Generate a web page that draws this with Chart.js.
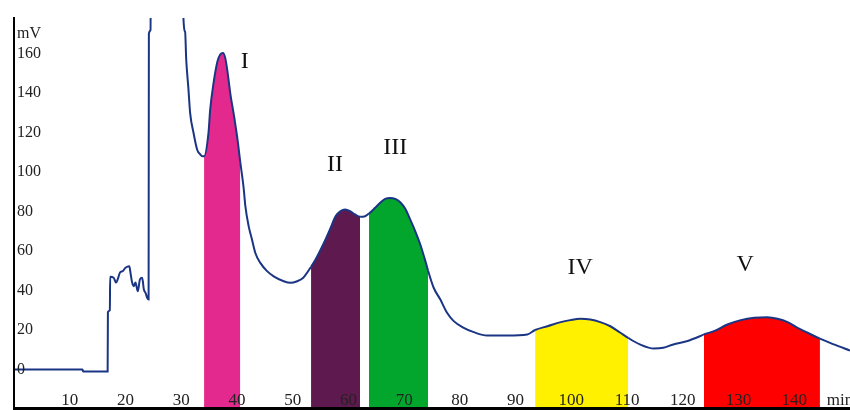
<!DOCTYPE html>
<html>
<head>
<meta charset="utf-8">
<title>Chromatogram</title>
<style>
body {
	margin: 0;
	padding: 0;
	background-color: #fff;
}
</style>
<script src="https://cdn.jsdelivr.net/npm/chart.js@4.4.0/dist/chart.umd.min.js"></script>
<script>
// retention time (min) / detector signal (mV)
var times = [
	0, 12.3, 12.4, 16.8, 16.85, 17.2, 17.25, 17.9, 18.3, 18.6, 19.0, 19.5, 20.0, 20.7, 20.9,
	21.2, 21.5, 21.8, 22.2, 22.6, 23.0, 23.3, 23.6, 23.9, 24.15, 24.2, 24.5, 24.6, 30.3, 30.4,
	30.7, 30.9, 31.3, 31.6, 32.2, 32.9, 33.4, 33.8, 34.1, 34.9, 35.2, 35.8, 36.5, 37.0, 37.5,
	37.9, 38.3, 38.8, 39.5, 40.1, 40.6, 41.2, 41.5, 42.1, 42.7, 43.3, 44.2, 45.4, 46.6, 48.4,
	49.6, 50.8, 51.9, 53.3, 54.1, 55.6, 56.8, 57.7, 58.6, 59.4, 60.3, 61.2, 62.1, 63.0, 63.7,
	64.8, 65.7, 66.6, 67.5, 68.4, 69.3, 70.2, 71.1, 72.0, 72.9, 73.8, 74.3, 75.3, 76.5, 77.7,
	78.9, 80.7, 82.5, 84.9, 88.5, 92.1, 93.5, 95.7, 98.1, 99.8, 101.6, 103.4, 105.2, 107.0, 108.8,
	110.2, 112.3, 114.8, 116.5, 118.3, 120.7, 123.1, 123.8, 125.6, 128.0, 130.4, 132.8, 135.2, 137.0, 138.8,
	140.6, 142.4, 144.6, 147.1, 150
];
var signal = [
	0, 0, -1, -1, 29, 30, 47, 46.4, 44, 45.6, 49, 49.8, 51.5, 52.3, 49,
	44, 42.2, 44, 39.6, 45.6, 46.4, 40.5, 38.8, 36.3, 35.4, 170, 172, 300, 300, 178,
	171, 157, 142, 130, 120, 111, 109, 108, 108, 120, 131.6, 145, 156, 159.5, 160.3,
	157.8, 151, 140, 128, 116.5, 105, 92, 83, 72.6, 65.8, 59, 54, 49.8, 47.2, 44.7,
	43.9, 44.7, 46.5, 52, 55.7, 64.1, 71.7, 77.6, 80.2, 81, 80.2, 78.5, 77.3, 77.6, 79,
	81.9, 84.4, 86.4, 86.9, 86.4, 84.7, 81.4, 75.9, 70, 63.3, 55, 50, 41.4, 35.4, 28.7,
	24.5, 21.1, 18.9, 17.2, 17.2, 17.7, 20, 21.9, 24, 25, 25.7, 25.3, 24, 21.9, 18.6,
	16, 12.7, 10.6, 11, 12.7, 14.3, 16.9, 17.8, 19.4, 22.8, 25, 26.2, 26.5, 25.7, 24,
	21.1, 18.6, 15.6, 12.7, 9.6
];

// collected fractions
var bandNames = ['I', 'II', 'III', 'IV', 'V'];
var bandStart = [34.1, 53.3, 63.7, 93.5, 123.8];
var bandEnd = [40.6, 62.1, 74.3, 110.2, 144.6];
var bandColors = ['#e4298e', '#5e1a4e', '#03a62c', '#fff100', '#ff0000'];
var labelTime = [41.4, 57.6, 68.4, 101.6, 131.2];
var labelSignal = [156, 103.8, 112.4, 51.6, 53.2];

var yTicks = [0, 20, 40, 60, 80, 100, 120, 140, 160, 170];
var xTicks = [10, 20, 30, 40, 50, 60, 70, 80, 90, 100, 110, 120, 130, 140, 148.2];

function bandColor(c) {
	var a = times[c.p0DataIndex], b = times[c.p1DataIndex];
	for (var i = 0; i < bandStart.length; i++) {
		if (a >= bandStart[i] - 1e-6 && b <= bandEnd[i] + 1e-6) return bandColors[i];
	}
	return 'rgba(0,0,0,0)';
}

var peakLabels = {
	id: 'peakLabels',
	afterDraw: function(chart) {
		var ctx = chart.ctx, sx = chart.scales.x, sy = chart.scales.y;
		ctx.save();
		ctx.font = '24px "Liberation Serif"';
		ctx.fillStyle = '#111';
		ctx.textAlign = 'center';
		ctx.textBaseline = 'middle';
		for (var i = 0; i < bandNames.length; i++) {
			ctx.fillText(bandNames[i], sx.getPixelForValue(labelTime[i]), sy.getPixelForValue(labelSignal[i]));
		}
		ctx.restore();
	}
};

window.onload = function() {
	var ctx = document.getElementById('chrom');
	new Chart(ctx, {
		type: 'line',
		data: {
			datasets: [{
				data: times.map(function(t, i) { return {x: t, y: signal[i]}; }),
				borderColor: '#1b3585',
				borderWidth: 2,
				backgroundColor: 'rgba(0,0,0,0)',
				pointRadius: 0,
				cubicInterpolationMode: 'monotone',
				fill: 'start',
				segment: {
					backgroundColor: bandColor
				}
			}]
		},
		options: {
			responsive: false,
			animation: false,
			devicePixelRatio: 1,
			layout: {
				padding: {left: 13, top: 18, right: 0, bottom: 1}
			},
			plugins: {
				legend: {display: false},
				tooltip: {enabled: false}
			},
			scales: {
				x: {
					type: 'linear',
					min: 0,
					max: 150,
					afterFit: function(s) {
						s.height = 1;
						s.paddingLeft = 0;
						s.paddingRight = 0;
					},
					afterBuildTicks: function(s) {
						s.ticks = xTicks.map(function(v) { return {value: v}; });
					},
					grid: {display: true, drawOnChartArea: false, drawTicks: false},
					border: {display: true, color: '#000', width: 3, z: 1},
					ticks: {
						z: 1,
						autoSkip: false,
						maxRotation: 0,
						mirror: true,
						padding: -3,
						color: '#222',
						font: {family: '"Liberation Serif"', size: 17},
						callback: function(v) { return v === 148.2 ? 'min' : v; }
					}
				},
				y: {
					min: -19.5,
					max: 178,
					afterFit: function(s) {
						s.width = 1;
						s.paddingTop = 0;
						s.paddingBottom = 0;
					},
					afterBuildTicks: function(s) {
						s.ticks = yTicks.map(function(v) { return {value: v}; });
					},
					grid: {display: true, drawOnChartArea: false, drawTicks: false},
					border: {display: true, color: '#000', width: 2, z: 1},
					ticks: {
						z: 1,
						mirror: true,
						padding: 3,
						color: '#222',
						font: {family: '"Liberation Serif"', size: 16},
						callback: function(v) { return v === 170 ? 'mV' : v; }
					}
				}
			}
		},
		plugins: [peakLabels]
	});
};
</script>
</head>
<body>
	<canvas id="chrom" width="850" height="410"></canvas>
</body>
</html>
